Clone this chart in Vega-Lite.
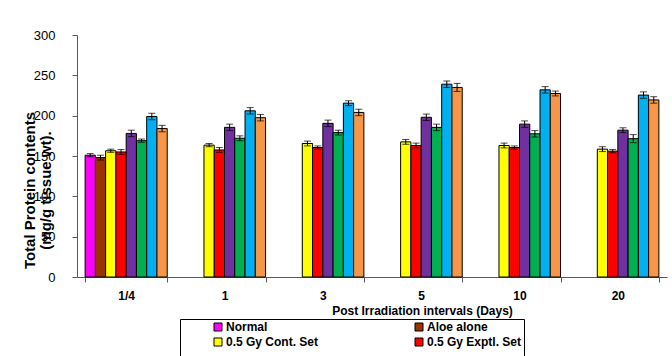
{
  "$schema": "https://vega.github.io/schema/vega-lite/v6.json",
  "width": 590,
  "height": 242,
  "autosize": "none",
  "padding": {"left": 77, "top": 35, "right": 5, "bottom": 79},
  "background": "white",
  "config": {
    "view": {"stroke": null},
    "font": "Liberation Sans"
  },
  "data": {
    "values": [
      {"d": "1/4", "s": "Normal", "v": 151, "e": 2},
      {"d": "1/4", "s": "Aloe alone", "v": 148, "e": 3},
      {"d": "1/4", "s": "0.5 Gy Cont. Set", "v": 156.5, "e": 2},
      {"d": "1/4", "s": "0.5 Gy Exptl. Set", "v": 155, "e": 3},
      {"d": "1/4", "s": "1 Gy Cont. Set", "v": 178, "e": 4},
      {"d": "1/4", "s": "1 Gy Exptl. Set", "v": 169, "e": 2},
      {"d": "1/4", "s": "2 Gy Cont. Set", "v": 199, "e": 4},
      {"d": "1/4", "s": "2 Gy Exptl. Set", "v": 184, "e": 4},
      {"d": "1", "s": "0.5 Gy Cont. Set", "v": 163.5, "e": 2},
      {"d": "1", "s": "0.5 Gy Exptl. Set", "v": 157.5, "e": 3},
      {"d": "1", "s": "1 Gy Cont. Set", "v": 185.5, "e": 4},
      {"d": "1", "s": "1 Gy Exptl. Set", "v": 172, "e": 3},
      {"d": "1", "s": "2 Gy Cont. Set", "v": 206, "e": 4},
      {"d": "1", "s": "2 Gy Exptl. Set", "v": 197.5, "e": 4},
      {"d": "3", "s": "0.5 Gy Cont. Set", "v": 165.5, "e": 3},
      {"d": "3", "s": "0.5 Gy Exptl. Set", "v": 160.5, "e": 2},
      {"d": "3", "s": "1 Gy Cont. Set", "v": 190.5, "e": 4},
      {"d": "3", "s": "1 Gy Exptl. Set", "v": 179, "e": 3},
      {"d": "3", "s": "2 Gy Cont. Set", "v": 215.5, "e": 3},
      {"d": "3", "s": "2 Gy Exptl. Set", "v": 204, "e": 4},
      {"d": "5", "s": "0.5 Gy Cont. Set", "v": 167.5, "e": 3},
      {"d": "5", "s": "0.5 Gy Exptl. Set", "v": 163, "e": 3},
      {"d": "5", "s": "1 Gy Cont. Set", "v": 198, "e": 4},
      {"d": "5", "s": "1 Gy Exptl. Set", "v": 185.5, "e": 4},
      {"d": "5", "s": "2 Gy Cont. Set", "v": 239, "e": 4},
      {"d": "5", "s": "2 Gy Exptl. Set", "v": 235, "e": 5},
      {"d": "10", "s": "0.5 Gy Cont. Set", "v": 163, "e": 3},
      {"d": "10", "s": "0.5 Gy Exptl. Set", "v": 160.5, "e": 2},
      {"d": "10", "s": "1 Gy Cont. Set", "v": 189.5, "e": 4},
      {"d": "10", "s": "1 Gy Exptl. Set", "v": 177.5, "e": 4},
      {"d": "10", "s": "2 Gy Cont. Set", "v": 232, "e": 4},
      {"d": "10", "s": "2 Gy Exptl. Set", "v": 227.5, "e": 3},
      {"d": "20", "s": "0.5 Gy Cont. Set", "v": 158.5, "e": 3},
      {"d": "20", "s": "0.5 Gy Exptl. Set", "v": 156, "e": 2},
      {"d": "20", "s": "1 Gy Cont. Set", "v": 182, "e": 3},
      {"d": "20", "s": "1 Gy Exptl. Set", "v": 171.5, "e": 5},
      {"d": "20", "s": "2 Gy Cont. Set", "v": 225.5, "e": 4},
      {"d": "20", "s": "2 Gy Exptl. Set", "v": 219.5, "e": 4}
    ]
  },
  "transform": [
    {"calculate": "datum.v - datum.e", "as": "lo"},
    {"calculate": "datum.v + datum.e", "as": "hi"}
  ],
  "encoding": {
    "x": {
      "field": "d",
      "type": "nominal",
      "sort": null,
      "scale": {"paddingInner": 0.165, "paddingOuter": 0.0825},
      "axis": {
        "tickBand": "extent",
        "labelAngle": 0,
        "labelFont": "Liberation Sans",
        "labelFontWeight": "bold",
        "labelFontSize": 12,
        "labelColor": "black",
        "labelPadding": 8,
        "tickSize": 5,
        "tickColor": "#595959",
        "domainColor": "#595959",
        "title": "Post Irradiation intervals (Days)",
        "titleFont": "Liberation Sans",
        "titleFontWeight": "bold",
        "titleFontSize": 12,
        "titleColor": "black",
        "titleX": 345,
        "titleY": 28
      }
    },
    "xOffset": {
      "field": "s",
      "type": "nominal",
      "sort": null,
      "scale": {"domain": ["Normal", "Aloe alone", "0.5 Gy Cont. Set", "0.5 Gy Exptl. Set", "1 Gy Cont. Set", "1 Gy Exptl. Set", "2 Gy Cont. Set", "2 Gy Exptl. Set"], "paddingInner": 0, "paddingOuter": 0}
    }
  },
  "layer": [
    {
      "mark": {"type": "bar", "stroke": "black", "strokeWidth": 1},
      "encoding": {
        "y": {
          "field": "v",
          "type": "quantitative",
          "scale": {"domain": [0, 300]},
          "axis": {
            "values": [0, 50, 100, 150, 200, 250, 300],
            "grid": false,
            "labelFont": "Liberation Sans Narrow, Liberation Sans",
            "labelFontSize": 13,
            "labelColor": "black",
            "labelPadding": 17,
            "tickSize": 5,
            "tickColor": "#595959",
            "domainColor": "#595959",
            "title": ["Total Protein contents", "(mg/g tissue wt)."],
            "titleFont": "Liberation Sans",
            "titleFontWeight": "bold",
            "titleFontSize": 15,
            "titleColor": "black",
            "titleAngle": -90,
            "titleAlign": "center",
            "titleBaseline": "top",
            "titleX": -55,
            "titleY": 155,
            "titleLineHeight": 16
          }
        },
        "color": {
          "field": "s",
          "type": "nominal",
          "sort": null,
          "scale": {
            "domain": ["Normal", "Aloe alone", "0.5 Gy Cont. Set", "0.5 Gy Exptl. Set", "1 Gy Cont. Set", "1 Gy Exptl. Set", "2 Gy Cont. Set", "2 Gy Exptl. Set"],
            "range": ["#FF00FF", "#993300", "#FFFF00", "#FF0000", "#7030A0", "#00B050", "#00B0F0", "#F79646"]
          },
          "legend": {
            "values": ["Normal", "Aloe alone", "0.5 Gy Cont. Set", "0.5 Gy Exptl. Set"],
            "orient": "none",
            "legendX": 103,
            "legendY": 284,
            "direction": "horizontal",
            "columns": 2,
            "columnPadding": 94,
            "rowPadding": 3,
            "padding": 2,
            "strokeColor": "black",
            "title": [" ", " ", " ", " "],
            "titleOrient": "left",
            "titleLineHeight": 15,
            "titlePadding": 30,
            "symbolType": "square",
            "symbolSize": 64,
            "symbolStrokeColor": "black",
            "symbolStrokeWidth": 1,
            "symbolOpacity": 1,
            "labelFont": "Liberation Sans",
            "labelFontWeight": "bold",
            "labelFontSize": 12,
            "labelColor": "black",
            "labelOffset": 2,
            "labelLimit": 300
          }
        }
      }
    },
    {
      "mark": {"type": "rule", "color": "black", "strokeWidth": 1},
      "encoding": {
        "y": {"field": "lo", "type": "quantitative"},
        "y2": {"field": "hi"}
      }
    },
    {
      "mark": {"type": "tick", "color": "black", "thickness": 1, "size": 7},
      "encoding": {"y": {"field": "lo", "type": "quantitative"}}
    },
    {
      "mark": {"type": "tick", "color": "black", "thickness": 1, "size": 7},
      "encoding": {"y": {"field": "hi", "type": "quantitative"}}
    }
  ]
}
